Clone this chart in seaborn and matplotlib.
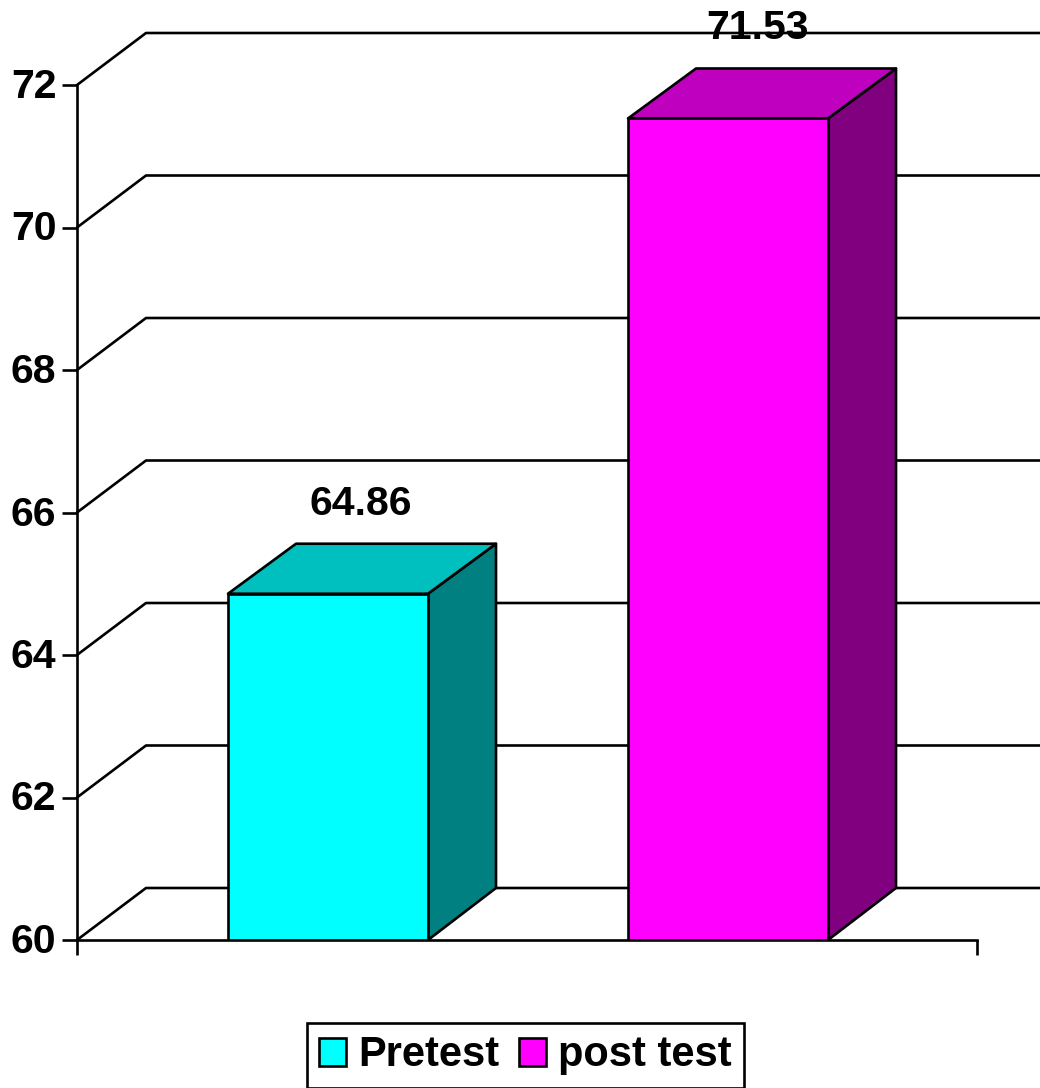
import matplotlib
matplotlib.use("Agg")
import matplotlib.pyplot as plt
from matplotlib.patches import Polygon
from matplotlib.transforms import Affine2D
import pandas as pd
import seaborn as sns

# Scores for the two test phases
phases = ["Pretest", "post test"]
scores = [64.86, 71.53]
value_labels = ["64.86", "71.53"]
face_colors = ["#00FFFF", "#FF00FF"]
side_colors = ["#008080", "#800080"]
top_colors = ["#00BFBF", "#BF00BF"]
y_ticks = [60, 62, 64, 66, 68, 70, 72]

WIDTH, HEIGHT = 1040, 1088
LINE = 1.9
FONT = 29.5
DEPTH_X, DEPTH_Y = 69, 52      # pixel shift of the back wall
BAR_DX, BAR_TOP_DY = 68, 50    # pixel shift of the back edge of a bar
LABEL_DX = [33, 29]            # pixel shift of each value label from its bar centre

sns.set_theme(style="white")
plt.rcParams["font.family"] = ["Liberation Sans", "DejaVu Sans"]
plt.rcParams["font.weight"] = "bold"
plt.rcParams["font.size"] = FONT
plt.rcParams["text.color"] = "black"

fig = plt.figure(figsize=(WIDTH / 100, HEIGHT / 100), dpi=100, facecolor="white")
ax = fig.add_axes([77 / WIDTH, 1 - 940 / HEIGHT, 900 / WIDTH, 855 / HEIGHT])

df = pd.DataFrame({"phase": phases, "score": scores})
sns.barplot(
    data=df, x="phase", y="score", hue="phase", hue_order=phases, order=phases,
    palette=face_colors, width=0.5, dodge=False, saturation=1,
    edgecolor="black", linewidth=LINE, ax=ax, zorder=3,
)

x_left, x_right = -0.6275, 1.6225
ax.set_xlim(x_left, x_right)
ax.set_ylim(60, 72)
ax.set_xlabel("")
ax.set_ylabel("")

# Floor-to-wall gridlines: a diagonal from the axis, then flat along the back wall
for v in y_ticks:
    x_pix, y_pix = ax.transData.transform((x_left, v))
    ax.plot([x_pix, x_pix + DEPTH_X, WIDTH + 5],
            [y_pix, y_pix + DEPTH_Y, y_pix + DEPTH_Y],
            color="black", lw=LINE, clip_on=False, transform=None, zorder=1,
            solid_joinstyle="round")

# Side and top faces of each bar, built from the drawn front rectangles
bars = [c[0] for c in ax.containers]
for bar, side, top, text, dx in zip(bars, side_colors, top_colors, value_labels, LABEL_DX):
    x0 = bar.get_x()
    x1 = x0 + bar.get_width()
    h = bar.get_height()
    p = ax.transData.transform([(x0, h), (x1, h), (x1, 60)])
    (lx, ty), (rx, _), (_, by) = p
    ax.add_patch(Polygon(
        [(rx, by), (rx + BAR_DX, by + DEPTH_Y), (rx + BAR_DX, ty + BAR_TOP_DY), (rx, ty)],
        closed=True, facecolor=side, edgecolor="black", lw=LINE, transform=None,
        clip_on=False, zorder=2.5, joinstyle="round"))
    ax.add_patch(Polygon(
        [(lx, ty), (lx + BAR_DX, ty + BAR_TOP_DY), (rx + BAR_DX, ty + BAR_TOP_DY), (rx, ty)],
        closed=True, facecolor=top, edgecolor="black", lw=LINE, transform=None,
        clip_on=False, zorder=2.5, joinstyle="round"))
    ax.annotate(text, xy=((x0 + x1) / 2, h), xytext=(dx * 0.72, 64.8),
                textcoords="offset points", ha="center", va="center",
                fontsize=FONT, fontweight="bold", color="black", zorder=5,
                annotation_clip=False)

for name in ("top", "right"):
    ax.spines[name].set_visible(False)
for name in ("left", "bottom"):
    ax.spines[name].set_color("black")
    ax.spines[name].set_linewidth(LINE)
    ax.spines[name].set_zorder(4)

ax.set_yticks(y_ticks)
ax.set_xticks([x_left, x_right])
ax.set_xticklabels([])
ax.tick_params(axis="both", length=10.8, width=LINE, color="black", direction="out",
               left=True, bottom=True, labelcolor="black")
ax.tick_params(axis="y", pad=4, labelsize=FONT)
for label in ax.get_yticklabels():
    label.set_transform(label.get_transform() + Affine2D().translate(0, 2))

leg = ax.legend(
    bars, phases, ncol=2, loc="lower center",
    bbox_to_anchor=(525.5 / WIDTH, 1 - 1087.5 / HEIGHT), bbox_transform=fig.transFigure,
    fancybox=False, framealpha=1, edgecolor="black", facecolor="white",
    borderaxespad=0, borderpad=0.29, handlelength=0.65, handleheight=0.65,
    handletextpad=0.3, columnspacing=0.46, labelcolor="black",
    prop={"family": "Liberation Sans", "weight": "bold", "size": 30},
)
leg.get_frame().set_linewidth(LINE)
leg.set_zorder(6)

fig.savefig("out.png", dpi=100, facecolor="white")
